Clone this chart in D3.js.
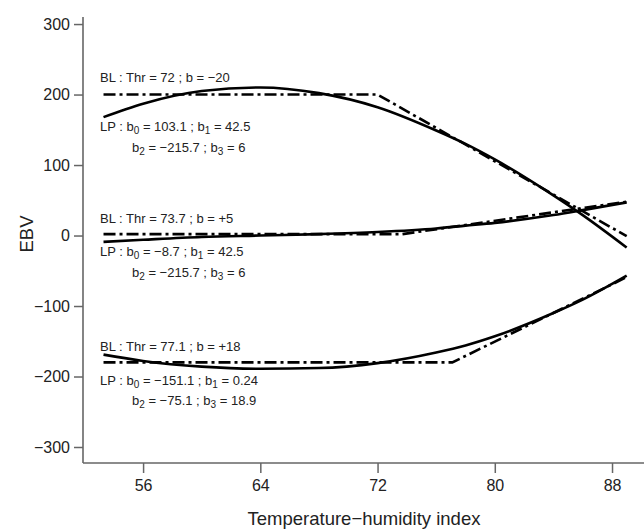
<!DOCTYPE html>
<html>
<head>
<meta charset="utf-8">
<script src="https://cdn.jsdelivr.net/npm/d3@7"></script>
<style>
  body { margin: 0; background: #fff; }
  text { font-family: "Liberation Sans", Arial, sans-serif; }
</style>
</head>
<body>
<div id="chart"></div>
<script>
// THI grid the smooth (LP) curves were read at
const thi = [53.3, 56, 60, 64, 68, 72, 76, 78, 80, 84, 86, 89];
const lpTop = [168, 187, 205, 210, 202, 182, 149, 130, 108, 57, 29, -17];
const lpMid = [-9, -6, -2, 0, 2, 5, 10, 14, 18, 29, 36, 47];
const lpBot = [-169, -178, -186, -189, -188, -181, -166, -156, -143, -110, -91, -57];

// broken-line (BL) models: start, threshold, end
const blTopX = [53.3, 72, 89],   blTopY = [200, 200, -1];
const blMidX = [53.3, 73.7, 89], blMidY = [2, 2, 48];
const blBotX = [53.3, 77.1, 89], blBotY = [-180, -180, -59];

const xTicks = [56, 64, 72, 80, 88];
const yTicks = [-300, -200, -100, 0, 100, 200, 300];

const blText = ["BL : Thr = 72 ; b = \u221220", "BL : Thr = 73.7 ; b = +5", "BL : Thr = 77.1 ; b = +18"];
const lpText1 = ["LP : b_0 = 103.1 ; b_1 = 42.5", "LP : b_0 = \u22128.7 ; b_1 = 42.5", "LP : b_0 = \u2212151.1 ; b_1 = 0.24"];
const lpText2 = ["b_2 = \u2212215.7 ; b_3 = 6", "b_2 = \u2212215.7 ; b_3 = 6", "b_2 = \u221275.1 ; b_3 = 18.9"];

const width = 644, height = 531;

const svg = d3.select("#chart").append("svg")
  .attr("width", width)
  .attr("height", height);

const x = d3.scaleLinear().domain([51.9, 90.25]).range([83, 645]);
const y = d3.scaleLinear().domain([-322.7, 310]).range([463, 17]);

const axisCol = "#666";

// axes (L shaped box)
svg.append("line").attr("x1", 83).attr("x2", 83).attr("y1", 17).attr("y2", 463)
  .attr("stroke", axisCol).attr("stroke-width", 1.6);
svg.append("line").attr("x1", 83).attr("x2", width).attr("y1", 463).attr("y2", 463)
  .attr("stroke", axisCol).attr("stroke-width", 1.6);

const yAxis = svg.append("g").attr("transform", "translate(83,0)")
  .call(d3.axisLeft(y).tickValues(yTicks).tickSize(9).tickPadding(4));
const xAxis = svg.append("g").attr("transform", "translate(0,463)")
  .call(d3.axisBottom(x).tickValues(xTicks).tickSize(10).tickPadding(7));

[yAxis, xAxis].forEach(g => {
  g.select(".domain").remove();
  g.selectAll(".tick line").attr("stroke", axisCol).attr("stroke-width", 1.5);
  g.selectAll(".tick text").attr("fill", "#222").style("font-size", "16px")
    .style("font-family", "'Liberation Sans', Arial, sans-serif");
});

svg.append("text")
  .attr("x", 364).attr("y", 525)
  .attr("text-anchor", "middle")
  .attr("fill", "#222")
  .style("font-size", "18.5px")
  .text("Temperature\u2212humidity index");

svg.append("text")
  .attr("transform", "translate(33,234) rotate(-90)")
  .attr("text-anchor", "middle")
  .attr("fill", "#222")
  .style("font-size", "18.5px")
  .text("EBV");

// curves
const smooth = d3.line().x(d => x(d[0])).y(d => y(d[1])).curve(d3.curveMonotoneX);
const broken = d3.line().x(d => x(d[0])).y(d => y(d[1]));

[lpTop, lpMid, lpBot].forEach(vals => {
  svg.append("path")
    .attr("d", smooth(thi.map((t, i) => [t, vals[i]])))
    .attr("fill", "none").attr("stroke", "#000").attr("stroke-width", 2.6);
});

[[blTopX, blTopY], [blMidX, blMidY], [blBotX, blBotY]].forEach(([bx, by]) => {
  svg.append("path")
    .attr("d", broken(bx.map((t, i) => [t, by[i]])))
    .attr("fill", "none").attr("stroke", "#000").attr("stroke-width", 2.6)
    .attr("stroke-dasharray", "12,4,3,4");
});

// annotation text, "_n" marks a subscript
function label(str, px, py) {
  const t = svg.append("text").attr("x", px).attr("y", py)
    .attr("fill", "#222").style("font-size", "13px");
  const parts = str.split(/_(\d)/);
  parts.forEach((p, i) => {
    if (i % 2 === 1) {
      t.append("tspan").attr("dy", 3).style("font-size", "10px").text(p);
    } else if (p.length) {
      t.append("tspan").attr("dy", i > 0 ? -3 : 0).text(p);
    }
  });
}

const blBase = [82, 222.5, 350.5];
const lp1Base = [131, 256, 385];
const lp2Base = [152, 277, 405];

blText.forEach((s, i) => label(s, 100, blBase[i]));
lpText1.forEach((s, i) => label(s, 100, lp1Base[i]));
lpText2.forEach((s, i) => label(s, 132, lp2Base[i]));
</script>
</body>
</html>
